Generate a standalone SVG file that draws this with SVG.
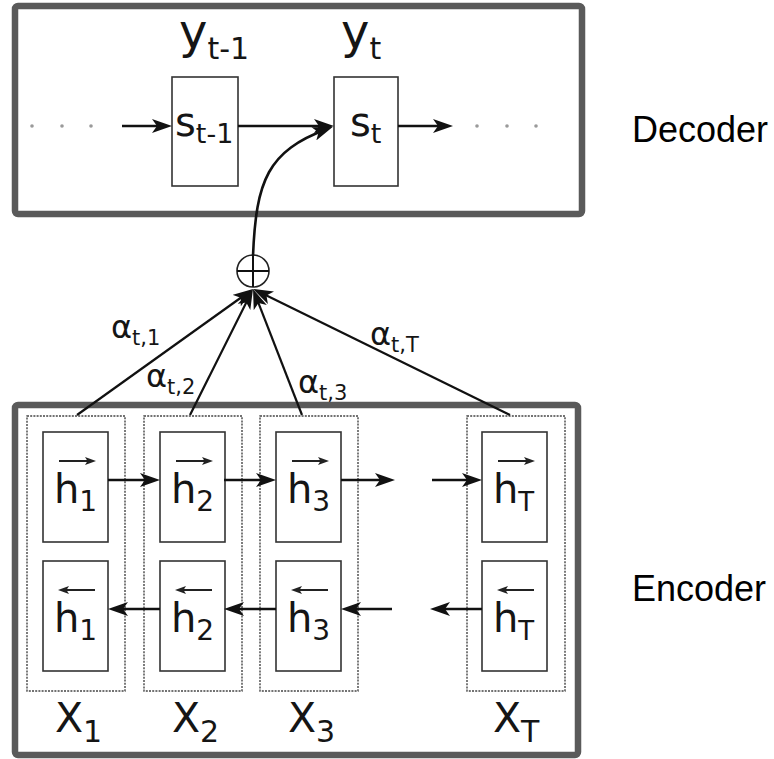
<svg xmlns="http://www.w3.org/2000/svg" width="774" height="759" viewBox="0 0 774 759">
<style>
.frame{fill:none;stroke:#5a5a5a;stroke-width:6.5}
.cell{fill:#fff;stroke:#333;stroke-width:1.6}
.col{fill:none;stroke:#444;stroke-width:1.4;stroke-dasharray:2 1.2}
.t{font-family:"DejaVu Sans","Liberation Sans",sans-serif;fill:#151515}
.lab{font-family:"Liberation Sans",Arial,sans-serif;font-size:36px;fill:#000}
.ln{fill:none;stroke:#111;stroke-width:2.6}
.al{fill:none;stroke:#111;stroke-width:2.2}
.ov{fill:none;stroke:#222;stroke-width:1.8}
.dot{fill:#9a9a9a}
.h{font-size:40px}
.hs{font-size:28px}
.x{font-size:41px}
.xs{font-size:30px}
.a{font-size:32px}
.as{font-size:21px}
</style>
<defs>
<marker id="ah" viewBox="0 0 20 14" refX="14" refY="7" markerWidth="20" markerHeight="14" orient="auto" markerUnits="userSpaceOnUse">
<path d="M0,0 L20,7 L0,14 L5,7 Z" fill="#111"/>
</marker>
<marker id="sh" viewBox="0 0 11 8" refX="8" refY="4" markerWidth="11" markerHeight="8" orient="auto" markerUnits="userSpaceOnUse">
<path d="M0,0 L11,4 L0,8 L2.5,4 Z" fill="#222"/>
</marker>
</defs>
<rect width="774" height="759" fill="#fff"/>

<g id="attention-labels" class="t">
<text class="a" x="111" y="338">α<tspan class="as" dy="7">t,1</tspan></text>
<text class="a" x="146" y="387">α<tspan class="as" dy="7">t,2</tspan></text>
<text class="a" x="298" y="393">α<tspan class="as" dy="7">t,3</tspan></text>
<text class="a" x="370" y="345">α<tspan class="as" dy="7">t,T</tspan></text>
</g>

<g id="decoder">
<rect class="frame" x="15" y="6" width="567" height="208" rx="3"/>
<g id="y_prev"><text class="t" x="179" y="48" font-size="48">y<tspan font-size="30" dy="11">t-1</tspan></text></g>
<g id="y_t"><text class="t" x="341" y="48" font-size="48">y<tspan font-size="30" dy="11">t</tspan></text></g>
<g id="s_prev"><rect class="cell" x="172" y="77" width="66" height="109"/><text class="t" x="175" y="136" font-size="40">s<tspan font-size="27" dy="7">t-1</tspan></text></g>
<g id="s_t"><rect class="cell" x="334" y="77" width="64" height="109"/><text class="t" x="350" y="136" font-size="40">s<tspan font-size="27" dy="7">t</tspan></text></g>
<g id="dec-dots">
<circle class="dot" cx="32" cy="126" r="1.8"/><circle class="dot" cx="62" cy="126" r="1.8"/><circle class="dot" cx="91" cy="126" r="1.8"/>
<circle class="dot" cx="477" cy="126" r="1.8"/><circle class="dot" cx="507" cy="126" r="1.8"/><circle class="dot" cx="536" cy="126" r="1.8"/>
</g>
<text id="decoder-label" class="lab" x="632" y="142">Decoder</text>
</g>

<g id="oplus">
<circle cx="253" cy="271" r="16" fill="#fff" stroke="#222" stroke-width="1.6"/>
<line x1="237" y1="271" x2="269" y2="271" stroke="#111" stroke-width="2"/>
<line x1="253" y1="255" x2="253" y2="287" stroke="#111" stroke-width="2"/>
</g>

<g id="encoder">
<rect class="frame" x="15" y="405" width="563" height="350" rx="3"/>
<g id="col1">
<rect class="col" x="27" y="416" width="98" height="275"/>
<rect class="cell" x="43" y="432" width="65" height="110"/>
<rect class="cell" x="43" y="561" width="65" height="110"/>
<line class="ov" x1="59" y1="461" x2="93" y2="461" marker-end="url(#sh)"/>
<line class="ov" x1="95" y1="590" x2="61" y2="590" marker-end="url(#sh)"/>
<text class="t h" x="54" y="503">h<tspan class="hs" dy="8">1</tspan></text>
<text class="t h" x="54" y="632">h<tspan class="hs" dy="8">1</tspan></text>
<text class="t x" x="55" y="732">X<tspan class="xs" dy="10">1</tspan></text>
</g>
<g id="col2">
<rect class="col" x="144" y="416" width="98" height="275"/>
<rect class="cell" x="160" y="432" width="65" height="110"/>
<rect class="cell" x="160" y="561" width="65" height="110"/>
<line class="ov" x1="176" y1="461" x2="210" y2="461" marker-end="url(#sh)"/>
<line class="ov" x1="212" y1="590" x2="178" y2="590" marker-end="url(#sh)"/>
<text class="t h" x="171" y="503">h<tspan class="hs" dy="8">2</tspan></text>
<text class="t h" x="171" y="632">h<tspan class="hs" dy="8">2</tspan></text>
<text class="t x" x="172" y="732">X<tspan class="xs" dy="10">2</tspan></text>
</g>
<g id="col3">
<rect class="col" x="260" y="416" width="98" height="275"/>
<rect class="cell" x="276" y="432" width="65" height="110"/>
<rect class="cell" x="276" y="561" width="65" height="110"/>
<line class="ov" x1="292" y1="461" x2="326" y2="461" marker-end="url(#sh)"/>
<line class="ov" x1="328" y1="590" x2="294" y2="590" marker-end="url(#sh)"/>
<text class="t h" x="287" y="503">h<tspan class="hs" dy="8">3</tspan></text>
<text class="t h" x="287" y="632">h<tspan class="hs" dy="8">3</tspan></text>
<text class="t x" x="288" y="732">X<tspan class="xs" dy="10">3</tspan></text>
</g>
<g id="colT">
<rect class="col" x="467" y="416" width="98" height="275"/>
<rect class="cell" x="482" y="432" width="65" height="110"/>
<rect class="cell" x="482" y="561" width="65" height="110"/>
<line class="ov" x1="498" y1="461" x2="532" y2="461" marker-end="url(#sh)"/>
<line class="ov" x1="534" y1="590" x2="500" y2="590" marker-end="url(#sh)"/>
<text class="t h" x="493" y="503">h<tspan font-size="26" dy="8">T</tspan></text>
<text class="t h" x="493" y="632">h<tspan font-size="26" dy="8">T</tspan></text>
<text class="t x" x="493" y="732">X<tspan class="xs" dy="10">T</tspan></text>
</g>
<text id="encoder-label" class="lab" x="632" y="601">Encoder</text>
</g>

<g id="connectors">
<line class="ln" x1="122" y1="126" x2="166" y2="126" marker-end="url(#ah)"/>
<line class="ln" x1="238" y1="126" x2="328" y2="126" marker-end="url(#ah)"/>
<line class="ln" x1="398" y1="126" x2="447" y2="126" marker-end="url(#ah)"/>
<path class="ln" d="M253,256 C256,180 268,151 327,129" marker-end="url(#ah)"/>
<line class="al" x1="77" y1="415" x2="248.1" y2="292.5" marker-end="url(#ah)"/>
<line class="al" x1="190" y1="415" x2="250.3" y2="294.4" marker-end="url(#ah)"/>
<line class="al" x1="302" y1="415" x2="255.2" y2="294.6" marker-end="url(#ah)"/>
<line class="al" x1="510" y1="415" x2="258.4" y2="291.6" marker-end="url(#ah)"/>
<line class="ln" x1="108" y1="480" x2="154" y2="480" marker-end="url(#ah)"/>
<line class="ln" x1="224" y1="480" x2="270" y2="480" marker-end="url(#ah)"/>
<line class="ln" x1="341" y1="480" x2="389" y2="480" marker-end="url(#ah)"/>
<line class="ln" x1="432" y1="480" x2="476" y2="480" marker-end="url(#ah)"/>
<line class="ln" x1="160" y1="609" x2="114" y2="609" marker-end="url(#ah)"/>
<line class="ln" x1="276" y1="609" x2="230" y2="609" marker-end="url(#ah)"/>
<line class="ln" x1="392" y1="609" x2="347" y2="609" marker-end="url(#ah)"/>
<line class="ln" x1="482" y1="609" x2="436" y2="609" marker-end="url(#ah)"/>
</g>
</svg>
